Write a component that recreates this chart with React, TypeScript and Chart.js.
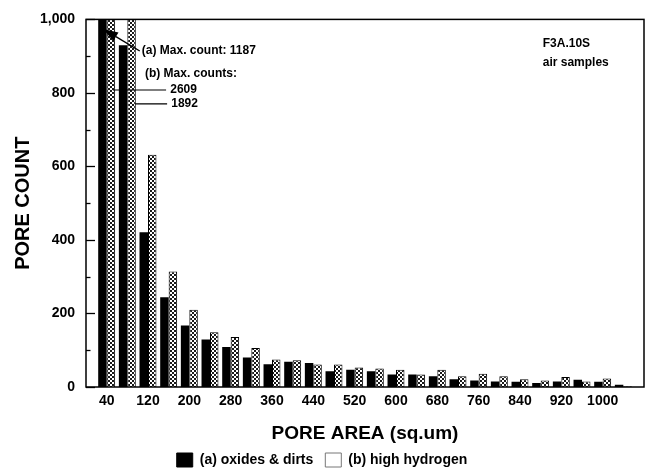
import React, { useEffect, useRef } from "react";
import { Chart, registerables } from "chart.js";

Chart.register(...registerables);

// Pore area bins (sq.um) and pore counts per bin
const poreAreas = [40, 80, 120, 160, 200, 240, 280, 320, 360, 400, 440, 480, 520, 560, 600, 640, 680, 720, 760, 800, 840, 880, 920, 960, 1000, 1040];
const oxidesCounts = [1187, 930, 421, 244, 167, 129, 109, 80, 62, 69, 65, 43, 47, 43, 34, 34, 29, 21, 18, 15, 14, 11, 15, 20, 14, 6];
const hydrogenCounts = [2609, 1892, 632, 314, 210, 149, 136, 106, 75, 73, 61, 61, 53, 50, 47, 34, 47, 29, 36, 29, 21, 18, 27, 15, 23, 2];
const areaTickLabels = [40, 120, 200, 280, 360, 440, 520, 600, 680, 760, 840, 920, 1000];
const seriesNames = ["(a) oxides & dirts", "(b) high hydrogen"];

const FONT = "'Liberation Sans', Arial, Helvetica, sans-serif";

function makeHatch(ctx: CanvasRenderingContext2D): CanvasPattern | string {
  const c = document.createElement("canvas");
  c.width = 4;
  c.height = 4;
  const p = c.getContext("2d");
  if (!p) return "#888";
  p.fillStyle = "#ffffff";
  p.fillRect(0, 0, 4, 4);
  p.fillStyle = "#1a1a1a";
  p.fillRect(0, 0, 2, 2);
  p.fillRect(2, 2, 2, 2);
  return ctx.createPattern(c, "repeat") || "#888";
}

// Frame around the plot, inward tick marks and the text notes
const decorations = {
  id: "decorations",
  afterDraw(chart: any) {
    const { ctx, chartArea: a, scales } = chart;
    const x = scales.x;
    const y = scales.y;
    ctx.save();
    ctx.strokeStyle = "#000";
    ctx.lineWidth = 1.5;
    ctx.strokeRect(a.left, a.top, a.right - a.left, a.bottom - a.top);

    ctx.lineWidth = 1.3;
    for (let v = 0; v <= 1000; v += 100) {
      const py = Math.round(y.getPixelForValue(v)) + 0.5;
      const len = v % 200 === 0 ? 9 : 4.5;
      ctx.beginPath();
      ctx.moveTo(a.left, py);
      ctx.lineTo(a.left + len, py);
      ctx.stroke();
    }

    const px = (v: number) => x.getPixelForValue(v);
    const py = (v: number) => y.getPixelForValue(v);

    ctx.fillStyle = "#000";
    ctx.font = `bold 12px ${FONT}`;
    ctx.textBaseline = "middle";
    ctx.textAlign = "left";

    ctx.fillText("(a) Max. count: 1187", px(108), py(914));
    ctx.fillText("(b) Max. counts:", px(114), py(851));
    ctx.fillText("2609", px(163), py(808));
    ctx.fillText("1892", px(165), py(770));
    ctx.fillText("F3A.10S", px(884), py(935));
    ctx.fillText("air samples", px(884), py(881));

    // leader lines for the clipped high-hydrogen bars
    ctx.lineWidth = 1.2;
    ctx.beginPath();
    ctx.moveTo(px(52), py(808));
    ctx.lineTo(px(155), py(808));
    ctx.moveTo(px(95), py(770));
    ctx.lineTo(px(157), py(770));
    ctx.stroke();

    // arrow to the clipped oxides bar
    const sx = px(104), sy = py(914);
    const tx = px(33), ty = py(974);
    const ang = Math.atan2(ty - sy, tx - sx);
    const hl = 15, hw = 5;
    const bx = tx - hl * Math.cos(ang), by = ty - hl * Math.sin(ang);
    ctx.lineWidth = 1.4;
    ctx.beginPath();
    ctx.moveTo(sx, sy);
    ctx.lineTo(bx, by);
    ctx.stroke();
    ctx.beginPath();
    ctx.moveTo(tx, ty);
    ctx.lineTo(bx + hw * Math.sin(ang), by - hw * Math.cos(ang));
    ctx.lineTo(bx - hw * Math.sin(ang), by + hw * Math.cos(ang));
    ctx.closePath();
    ctx.fill();
    ctx.restore();
  },
};

export default function App() {
  const ref = useRef<HTMLCanvasElement | null>(null);

  useEffect(() => {
    const canvas = ref.current;
    if (!canvas) return;
    const ctx = canvas.getContext("2d");
    if (!ctx) return;
    const hatch = makeHatch(ctx);

    const chart = new Chart(ctx, {
      type: "bar",
      data: {
        datasets: [
          {
            label: seriesNames[0],
            data: poreAreas.map((a, i) => ({ x: a, y: oxidesCounts[i] })),
            backgroundColor: "#000",
            borderColor: "#000",
            borderWidth: 0,
          },
          {
            label: seriesNames[1],
            data: poreAreas.map((a, i) => ({ x: a, y: hydrogenCounts[i] })),
            backgroundColor: hatch as any,
            borderColor: "#000",
            borderWidth: 1,
          },
        ],
      },
      options: {
        responsive: false,
        animation: false,
        categoryPercentage: 0.82,
        barPercentage: 1.0,
        layout: { padding: { left: 0, right: 3, top: 18, bottom: -3 } },
        plugins: {
          tooltip: { enabled: false },
          legend: {
            position: "bottom",
            labels: {
              color: "#000",
              font: { family: FONT, size: 14, weight: "bold" },
              boxWidth: 16,
              boxHeight: 14,
              padding: 12,
              generateLabels: (c: any) =>
                c.data.datasets.map((ds: any, i: number) => ({
                  text: ds.label,
                  fillStyle: i === 0 ? "#000" : "#fff",
                  strokeStyle: i === 0 ? "#000" : "#777",
                  lineWidth: 1,
                  hidden: false,
                  datasetIndex: i,
                  fontColor: "#000",
                })),
            },
          },
        },
        scales: {
          x: {
            type: "linear",
            offset: false,
            min: 0,
            max: 1080,
            grid: { display: false, drawTicks: false, offset: false },
            border: { display: false },
            afterBuildTicks: (s: any) => {
              s.ticks = areaTickLabels.map((v) => ({ value: v }));
            },
            afterFit: (s: any) => {
              s.height = 54;
            },
            ticks: {
              color: "#000",
              padding: 6,
              maxRotation: 0,
              autoSkip: false,
              font: { family: FONT, size: 14, weight: "bold" },
              callback: (v: any) => String(v),
            },
            title: {
              display: true,
              text: "PORE AREA (sq.um)",
              color: "#000",
              font: { family: FONT, size: 19, weight: "bold" },
              padding: { top: 0, bottom: -4 },
            },
          },
          y: {
            min: 0,
            max: 1000,
            grid: { display: false, drawTicks: false },
            border: { display: false },
            afterFit: (s: any) => {
              s.width = 86;
            },
            ticks: {
              stepSize: 200,
              color: "#000",
              padding: 11,
              font: { family: FONT, size: 14, weight: "bold" },
            },
            title: {
              display: true,
              text: "PORE COUNT",
              color: "#000",
              font: { family: FONT, size: 20, weight: "bold" },
              padding: { top: 11, bottom: 0 },
            },
          },
        },
      },
      plugins: [decorations],
    } as any);

    return () => chart.destroy();
  }, []);

  return (
    <div style={{ position: "fixed", left: 0, top: 0, width: 647, height: 474, background: "#fff" }}>
      <canvas ref={ref} width={647} height={474} />
    </div>
  );
}
